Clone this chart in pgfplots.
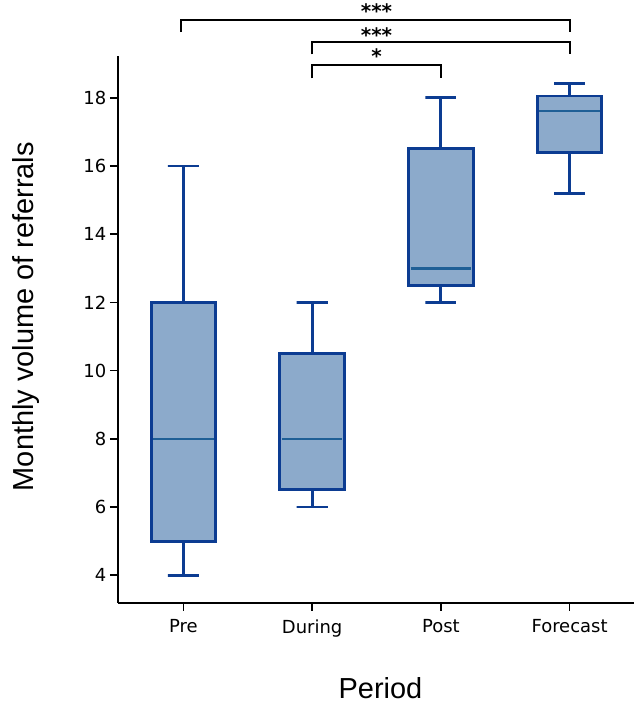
\documentclass[border=0pt]{standalone}
\usepackage{fontspec}
\usepackage{pgfplots}
\pgfplotsset{compat=1.18}
\setmainfont{DejaVu Sans}
\newfontfamily\labfont{Liberation Sans}
\definecolor{boxfill}{HTML}{8CAACB}
\definecolor{boxedge}{HTML}{0C3C92}
\definecolor{medcol}{HTML}{1F5F96}
\begin{document}
\begin{tikzpicture}
\path (-118bp,-100.3bp) rectangle (526bp,602.7bp);
\begin{axis}[
  at={(0,0)}, anchor=south west,
  scale only axis, width=517bp, height=547.7bp,
  xmin=-0.51, xmax=3.5, ymin=3.19, ymax=19.22,
  xtick={0,1,2,3}, xticklabels={Pre,During,Post,Forecast},
  ytick={4,6,8,10,12,14,16,18},
  axis x line*=bottom, axis y line*=left,
  axis line style={line width=2.4bp, black},
  tick align=outside, major tick length=8bp,
  tick style={black, line width=1.6bp},
  tick label style={font=\fontsize{18bp}{21bp}\selectfont},
  /pgf/number format/assume math mode=true,
  xticklabel style={yshift=-5bp},
  xlabel={Period}, ylabel={Monthly volume of referrals},
  label style={font=\labfont\fontsize{29bp}{34bp}\selectfont},
  xlabel style={at={(axis description cs:0.509,0)}, anchor=base, yshift=-95.3bp},
  ylabel style={at={(axis description cs:-0.1625,0.5235)}, anchor=base},
  clip=false,
  whisk/.style={draw=boxedge, line width=2.8bp, mark=none, line join=miter},
  bx/.style={draw=boxedge, fill=boxfill, line width=3bp, mark=none},
  med/.style={draw=medcol, line width=2.6bp, mark=none},
]
% Pre: lower whisker 4, Q1 5, median 8, Q3 12, upper whisker 16
\addplot[whisk] coordinates {(0,12) (0,16) (-0.12,16) (0.12,16)};
\addplot[whisk] coordinates {(0,5) (0,4) (-0.12,4) (0.12,4)};
\addplot[bx] coordinates {(-0.25,5) (0.25,5) (0.25,12) (-0.25,12)} -- cycle;
\addplot[med] coordinates {(-0.235,8) (0.235,8)};
% During: 6, 6.5, 8, 10.5, 12
\addplot[whisk] coordinates {(1,10.5) (1,12) (0.88,12) (1.12,12)};
\addplot[whisk] coordinates {(1,6.5) (1,6) (0.88,6) (1.12,6)};
\addplot[bx] coordinates {(0.75,6.5) (1.25,6.5) (1.25,10.5) (0.75,10.5)} -- cycle;
\addplot[med] coordinates {(0.765,8) (1.235,8)};
% Post: 12, 12.5, 13, 16.5, 18
\addplot[whisk] coordinates {(2,16.5) (2,18) (1.88,18) (2.12,18)};
\addplot[whisk] coordinates {(2,12.5) (2,12) (1.88,12) (2.12,12)};
\addplot[bx] coordinates {(1.75,12.5) (2.25,12.5) (2.25,16.5) (1.75,16.5)} -- cycle;
\addplot[med] coordinates {(1.765,13) (2.235,13)};
% Forecast: 15.2, 16.38, 17.61, 18.05, 18.41
\addplot[whisk] coordinates {(3,18.05) (3,18.41) (2.88,18.41) (3.12,18.41)};
\addplot[whisk] coordinates {(3,16.38) (3,15.2) (2.88,15.2) (3.12,15.2)};
\addplot[bx] coordinates {(2.75,16.38) (3.25,16.38) (3.25,18.05) (2.75,18.05)} -- cycle;
\addplot[med] coordinates {(2.765,17.61) (3.235,17.61)};
\draw[line width=2bp, black] (axis cs:-0.02,19.92) -- (axis cs:-0.02,20.28) -- (axis cs:3,20.28) -- (axis cs:3,19.92);
\draw[line width=2bp, black] (axis cs:1,19.27) -- (axis cs:1,19.62) -- (axis cs:3,19.62) -- (axis cs:3,19.27);
\draw[line width=2bp, black] (axis cs:1,18.57) -- (axis cs:1,18.95) -- (axis cs:2,18.95) -- (axis cs:2,18.57);
\node[font=\bfseries\fontsize{20bp}{24bp}\selectfont] at (axis cs:1.5,20.55) {***};
\node[font=\bfseries\fontsize{20bp}{24bp}\selectfont] at (axis cs:1.5,19.85) {***};
\node[font=\bfseries\fontsize{20bp}{24bp}\selectfont] at (axis cs:1.5,19.21) {*};
\end{axis}
\end{tikzpicture}
\end{document}
